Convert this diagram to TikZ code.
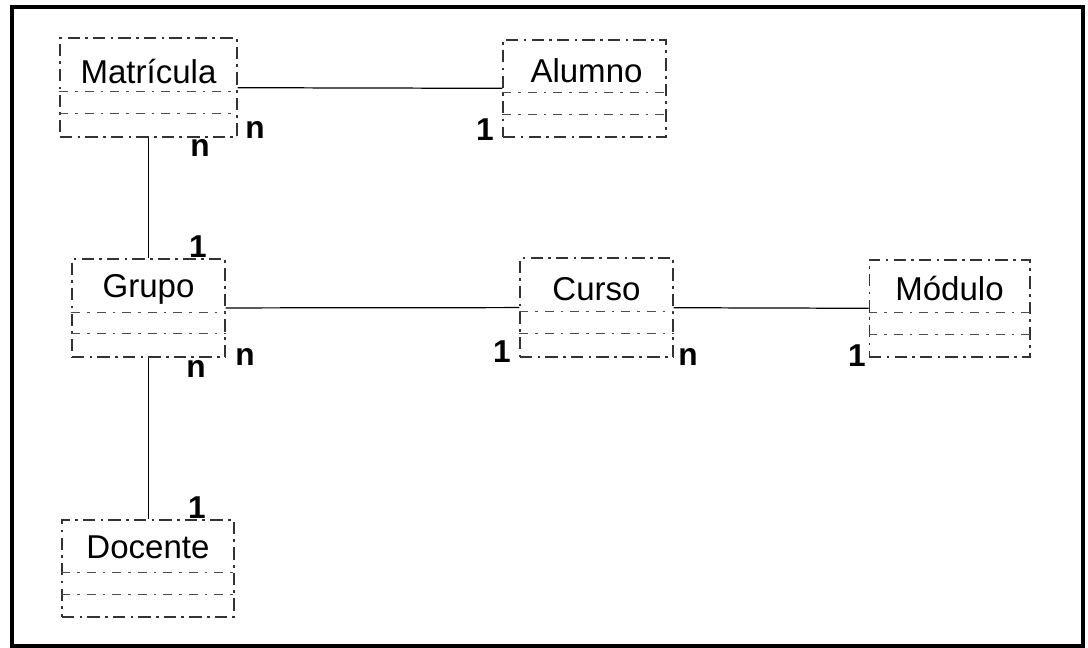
\documentclass[tikz,border=0pt]{standalone}
\usepackage{fontspec}
\setmainfont{Liberation Sans}
\usetikzlibrary{calc}
\tikzstyle{entity}=[draw=black!80, line width=0.6pt, dash pattern=on 7pt off 3pt on 1.5pt off 3pt, rectangle, inner sep=0pt]
\tikzstyle{part}=[draw=black!70, line width=0.5pt, dash pattern=on 5pt off 4pt on 1.5pt off 4pt]
\tikzstyle{assoc}=[draw=black, line width=0.7pt]
\tikzstyle{ename}=[font=\fontsize{18.8pt}{22pt}\selectfont, inner sep=0pt]
\tikzstyle{mult}=[font=\fontsize{18pt}{22pt}\selectfont\bfseries, inner sep=0pt]

\begin{document}
\begin{tikzpicture}[x=0.02cm, y=-0.02cm]
        \useasboundingbox (0,0) rectangle (1088,647);
        \draw[line width=2pt] (12,7) rectangle (1083,646);
        % classes
        \node[entity, minimum width=3.54cm, minimum height=1.98cm] (mat) at (148.5,87.5) {};
        \node[entity, minimum width=3.26cm, minimum height=1.94cm] (alu) at (584.5,88.5) {};
        \node[entity, minimum width=3.06cm, minimum height=1.96cm] (gru) at (148.5,308) {};
        \node[entity, minimum width=3.06cm, minimum height=1.98cm] (cur) at (596.5,307.5) {};
        \node[entity, minimum width=3.22cm, minimum height=1.94cm] (mod) at (949.5,308.5) {};
        \node[entity, minimum width=3.44cm, minimum height=1.94cm] (doc) at (148,568.5) {};
        \foreach \c in {mat,alu,gru,cur,mod,doc}
            \foreach \f in {0.54,0.76}
                \draw[part] ($(\c.north west)!\f!(\c.south west)$) -- ($(\c.north east)!\f!(\c.south east)$);
        \node[ename] (matname) at ($(mat.north)+(0,34)$) {Matrícula};
        \node[ename] (aluname) at ($(alu.north)+(2,31)$) {Alumno};
        \node[ename] (gruname) at ($(gru.north)+(0,31)$) {Grupo};
        \node[ename] (curname) at ($(cur.north)+(0,32)$) {Curso};
        \node[ename] (modname) at ($(mod.north)+(0,29)$) {Módulo};
        \node[ename] (docname) at ($(doc.north)+(0,28)$) {Docente};
        % associations
        \draw[assoc] (mat) -- (alu);
        \draw[assoc] (mat) -- (gru);
        \draw[assoc] (gru) -- (cur);
        \draw[assoc] (cur) -- (mod);
        \draw[assoc] (gru) -- (gru |- doc.north);
        % multiplicities
        \node[mult] (m1) at (200,148) {n};
        \node[mult] (m2) at (255,130) {n};
        \node[mult] (m3) at (485,130) {1};
        \node[mult] (m4) at (198,247) {1};
        \node[mult] (m5) at (196,369) {n};
        \node[mult] (m6) at (245,357) {n};
        \node[mult] (m7) at (502,352) {1};
        \node[mult] (m8) at (688,357) {n};
        \node[mult] (m9) at (857,356) {1};
        \node[mult] (m10) at (197,508) {1};
    \end{tikzpicture}
\end{document}
